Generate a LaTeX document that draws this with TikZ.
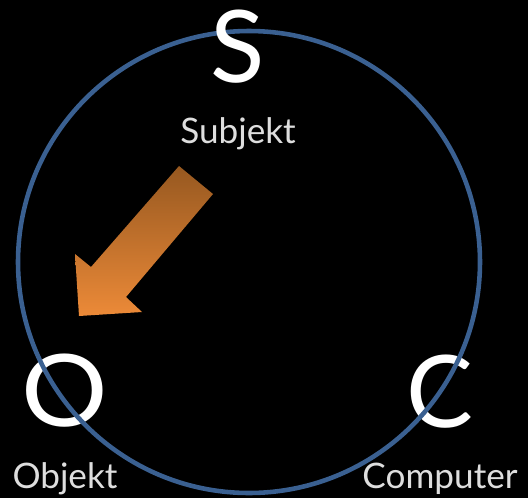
\documentclass[tikz,border=0pt]{standalone}
\usepackage{fontspec}
\setmainfont{Lato}
\usepackage{tikz}
\usetikzlibrary{
  positioning,
  backgrounds
}
\definecolor{ringblue}{RGB}{58,96,145}
\definecolor{lettercol}{RGB}{255,255,255}
\definecolor{labelcol}{RGB}{222,222,222}
\definecolor{arrowtop}{RGB}{150,88,32}
\definecolor{arrowbot}{RGB}{236,138,56}
\tikzset{
  bigletter/.style={
    text=lettercol, inner sep=0pt, font=\fontsize{57}{60}\selectfont
  },
  rolelabel/.style={
    text=labelcol, inner sep=0pt, anchor=base, font=\fontsize{20}{24}\selectfont
  },
  ring/.style={
    draw=ringblue, line width=2.6pt
  }
}

\begin{document}
\begin{tikzpicture}[x=0.02cm, y=-0.02cm]
        \fill[black] (0,0) rectangle (528,498);
        \useasboundingbox (0,0) rectangle (528,498);
        % letters under the ring
        \node[bigletter, xscale=1.08] (objL) at (65,391) {O};
        \node[bigletter] (compL) at (440,392) {C};
        \draw[ring] (249,262) circle (231);
        \node[bigletter] (subjL) at (238,47) {S};
        % labels
        \node[rolelabel] (subj) at (238,143) {Subjekt};
        \node[rolelabel] (obj) at (65,488) {Objekt};
        \node[rolelabel] (comp) at (440,488) {Computer};
        % block arrow
        \shade[top color=arrowtop, bottom color=arrowbot]
          (179,166) -- (213,194) -- (126,297) -- (142,312)
          -- (79,316) -- (75,254) -- (91,267) -- cycle;
      \end{tikzpicture}
\end{document}
